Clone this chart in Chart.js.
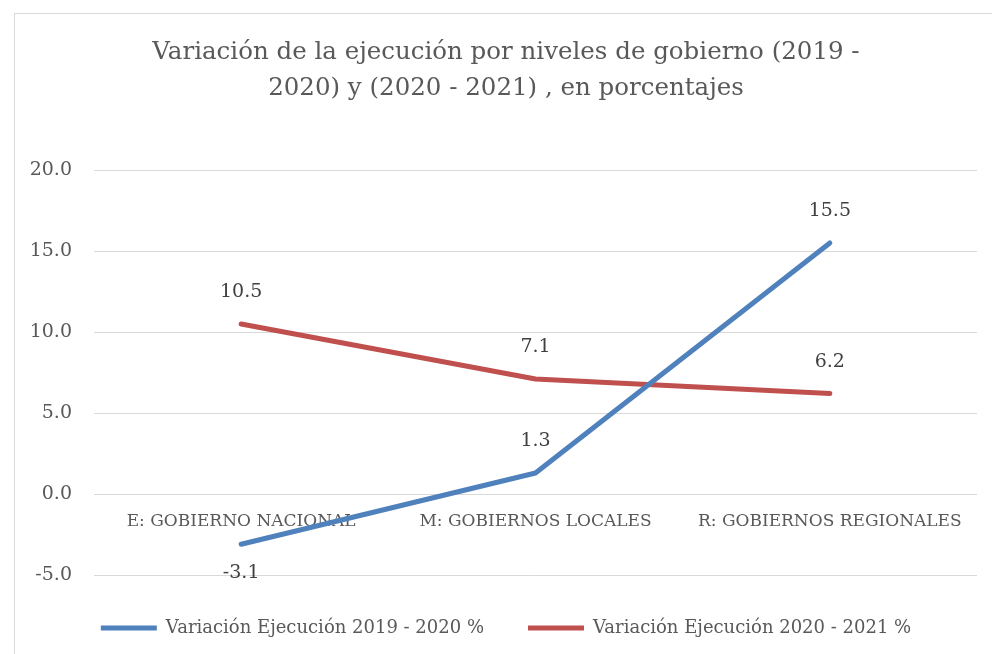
<!DOCTYPE html>
<html lang="es">
<head>
<meta charset="utf-8">
<title>Variación de la ejecución por niveles de gobierno</title>
<script src="https://cdn.jsdelivr.net/npm/chart.js@4/dist/chart.umd.min.js"></script>
<style>
  html, body { margin: 0; padding: 0; background: #ffffff; overflow: hidden; }
  .frame {
    position: absolute; left: 14px; top: 13px; width: 1000px; height: 700px;
    border: 1px solid #d9d9d9; box-sizing: border-box;
  }
  .chart-box { position: absolute; left: 0; top: 0; width: 992px; height: 654px; }
</style>
</head>
<body>
<div class="frame"></div>
<div class="chart-box"><canvas id="variacionChart" width="992" height="654"></canvas></div>
<script>
const categories = ['E: GOBIERNO NACIONAL', 'M: GOBIERNOS LOCALES', 'R: GOBIERNOS REGIONALES'];
const variacion2019_2020 = [-3.1, 1.3, 15.5];
const variacion2020_2021 = [10.5, 7.1, 6.2];
const seriesNames = ['Variación Ejecución 2019 - 2020 %', 'Variación Ejecución 2020 - 2021 %'];
const titleLines = ['Variación de la ejecución por niveles de gobierno (2019 -', '2020) y (2020 - 2021) , en porcentajes'];

const TEXT_COLOR = '#595959';
const SERIF = "'DejaVu Serif', serif";

// Value labels above each point (below when the value is negative).
const pointLabels = {
  id: 'pointLabels',
  afterDatasetsDraw(chart) {
    const ctx = chart.ctx;
    ctx.save();
    ctx.font = `19px ${SERIF}`;
    ctx.fillStyle = '#404040';
    ctx.textAlign = 'center';
    ctx.textBaseline = 'middle';
    chart.data.datasets.forEach((dataset, i) => {
      const meta = chart.getDatasetMeta(i);
      meta.data.forEach((point, j) => {
        const value = dataset.data[j];
        const dy = value < 0 ? 29 : -32;
        ctx.fillText(value.toFixed(1), point.x, point.y + dy);
      });
    });
    ctx.restore();
  }
};

const canvas = document.getElementById('variacionChart');
new Chart(canvas, {
  type: 'line',
  data: {
    labels: categories,
    datasets: [
      {
        label: seriesNames[0],
        data: variacion2019_2020,
        borderColor: '#4f81bd',
        backgroundColor: '#4f81bd',
        borderWidth: 5,
        borderCapStyle: 'round',
        borderJoinStyle: 'round',
        pointRadius: 0,
        tension: 0
      },
      {
        label: seriesNames[1],
        data: variacion2020_2021,
        borderColor: '#c0504d',
        backgroundColor: '#c0504d',
        borderWidth: 5,
        borderCapStyle: 'round',
        borderJoinStyle: 'round',
        pointRadius: 0,
        tension: 0
      }
    ]
  },
  options: {
    responsive: false,
    animation: false,
    events: [],
    layout: { padding: { left: 35, right: 15, top: 0, bottom: 7 } },
    plugins: {
      tooltip: { enabled: false },
      title: {
        display: true,
        text: titleLines,
        color: TEXT_COLOR,
        font: { family: SERIF, size: 24.5, weight: 'normal', lineHeight: 1.47 },
        padding: { top: 35, bottom: 63 }
      },
      legend: {
        position: 'bottom',
        labels: {
          usePointStyle: true,
          pointStyle: 'line',
          pointStyleWidth: 56,
          color: TEXT_COLOR,
          font: { family: SERIF, size: 18 },
          padding: 44
        }
      }
    },
    scales: {
      x: {
        type: 'category',
        offset: true,
        position: { y: 0 },
        grid: { display: false, drawTicks: false },
        border: { display: false },
        ticks: {
          color: TEXT_COLOR,
          font: { family: SERIF, size: 17 },
          padding: 17,
          maxRotation: 0,
          autoSkip: false
        }
      },
      y: {
        min: -5,
        max: 20,
        grid: { color: '#d9d9d9', lineWidth: 1, drawTicks: false },
        border: { display: false },
        ticks: {
          stepSize: 5,
          color: TEXT_COLOR,
          font: { family: SERIF, size: 19 },
          padding: 22,
          callback: value => Number(value).toFixed(1)
        },
        afterFit(scale) {
          scale.width = 59;
          // tick labels reach past the padded edge, so don't clip them to the axis box
          scale._computeLabelArea = () => null;
        }
      }
    }
  },
  plugins: [pointLabels]
});
</script>
</body>
</html>
